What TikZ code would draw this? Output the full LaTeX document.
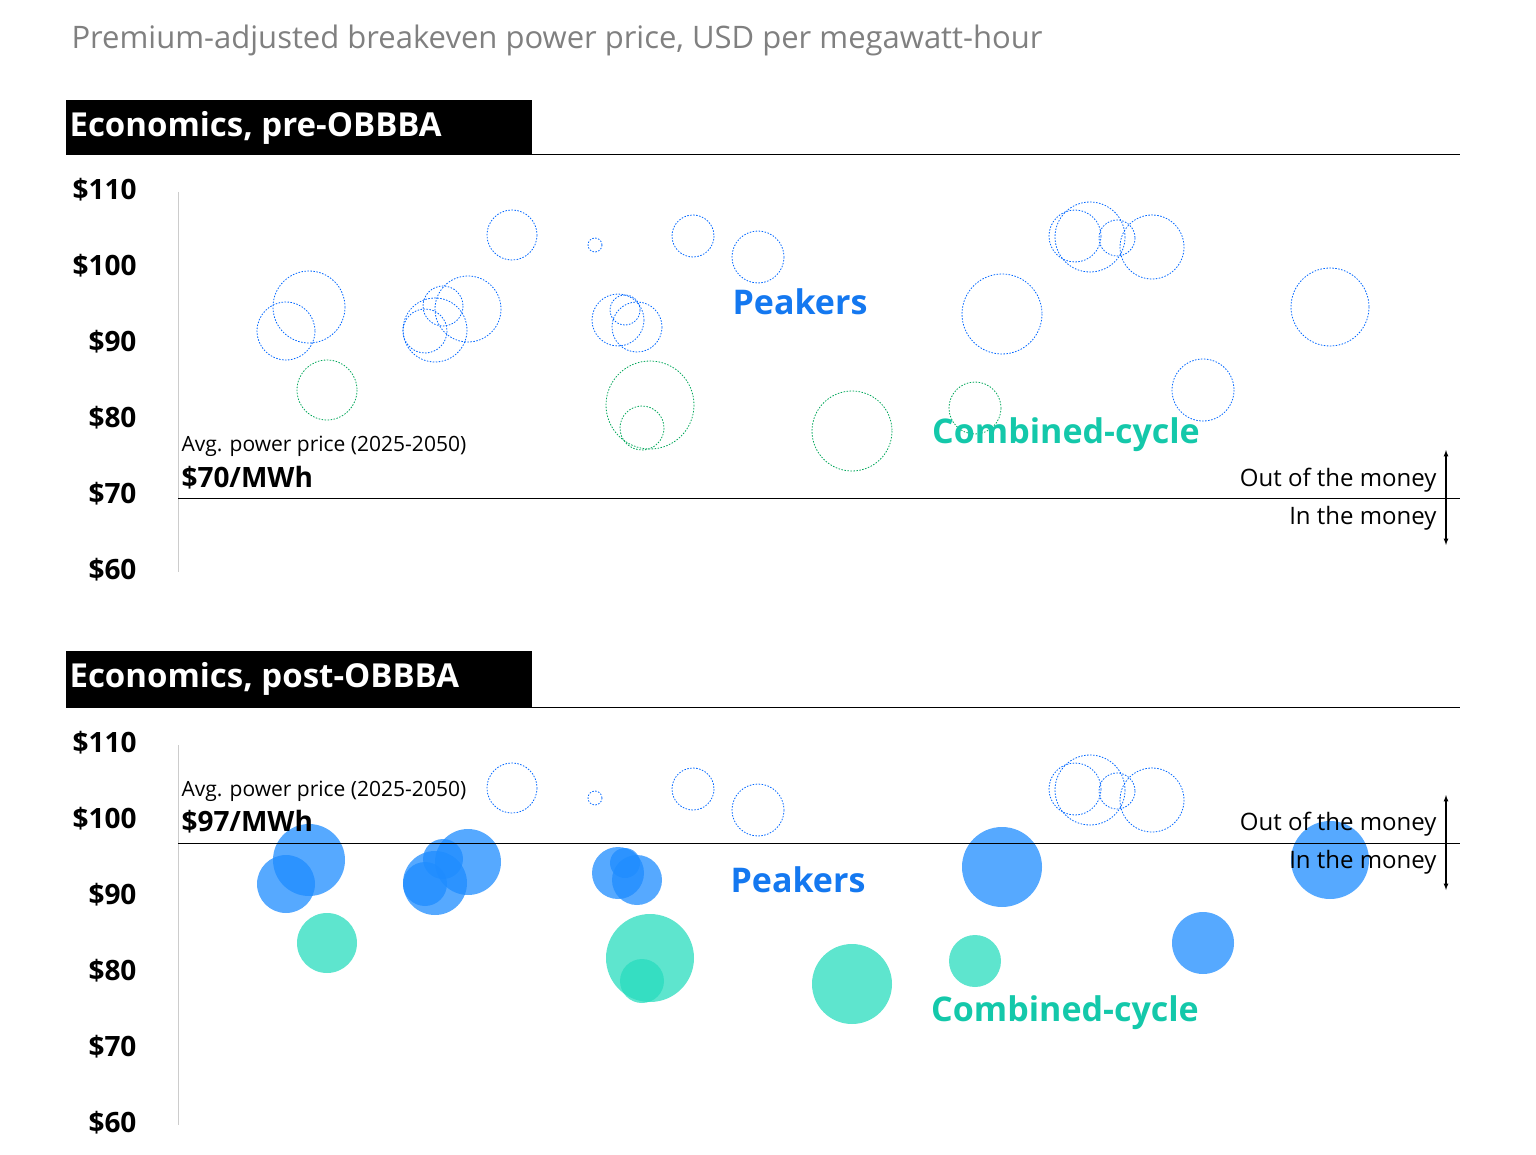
\documentclass[tikz,border=0pt]{standalone}
\usepackage{fontspec}
\setmainfont{Open Sans}
\begin{document}
\begin{tikzpicture}[x=1pt,y=-1pt,
  bo/.style={draw=blue!60!cyan, dash pattern=on 1.5pt off 1.5pt, line width=0.8pt},
  go/.style={draw=teal!70!green, dash pattern=on 1.5pt off 1.5pt, line width=0.8pt},
  bf/.style={fill={rgb,255:red,30;green,140;blue,255}, fill opacity=0.75},
  gf/.style={fill={rgb,255:red,40;green,220;blue,190}, fill opacity=0.75},
  ylab/.style={anchor=east, font=\fontsize{28}{30}\selectfont\bfseries},
  hdr/.style={fill=black, text=white, anchor=west, font=\fontsize{33}{36}\selectfont\bfseries},
  pk/.style={text={rgb,255:red,20;green,120;blue,240}, font=\fontsize{34}{36}\selectfont\bfseries},
  cc/.style={text={rgb,255:red,20;green,200;blue,170}, font=\fontsize{34}{36}\selectfont\bfseries},
  sm/.style={anchor=west, font=\fontsize{21}{24}\selectfont},
  big/.style={anchor=west, font=\fontsize{28}{30}\selectfont\bfseries},
  mon/.style={anchor=east, font=\fontsize{24}{26}\selectfont}]
\useasboundingbox (0,0) rectangle (1536,1155);
\node[anchor=west, text=gray, font=\fontsize{31}{34}\selectfont] (title) at (68,40) {Premium-adjusted breakeven power price, USD per megawatt-hour};
% ---------- top panel ----------
\fill (66,100) rectangle (532,155);
\node[hdr] (h1) at (66,128) {Economics, pre-OBBBA};
\draw[line width=1pt] (66,155) -- (1460,155);
\draw[gray!40] (178,192) -- (178,572);
\foreach \v/\y in {110/190,100/266,90/342,80/418,70/494,60/570}
  \node[ylab] at (140,\y) {\$\v};
\draw (178,498) -- (1460,498);
\foreach \x/\y/\r in {286/331/29,309/307/36,425/331/22,435/330/32,443/306/20,468/309/33,512/235/25,595/245/7,618/320/26,625/310/15,637/327/25,693/236/21,758/257/26,1002/314/40,1075/236/26,1090/237/35,1117/238/18,1152/247/32,1203/390/31,1330/307/39}
  \draw[bo] (\x,\y) circle (\r);
\foreach \x/\y/\r in {327/390/30,650/405/44,642/428/22,852/431/40,975/408/26}
  \draw[go] (\x,\y) circle (\r);
\node[pk] (p1) at (800,302) {Peakers};
\node[cc] (c1) at (1066,435) {Combined-cycle};
\node[sm] (a1) at (178,446) {Avg. power price (2025-2050)};
\node[big] (v1) at (178,478) {\$70/MWh};
\node[mon] (o1) at (1440,480) {Out of the money};
\node[mon] (i1) at (1440,518) {In the money};
\coordinate (t1) at (1446,450); \coordinate (b1) at (1446,545);
\draw[<->, >=latex, line width=1.2pt] (t1) -- (b1);
% ---------- bottom panel ----------
\fill (66,651) rectangle (532,707);
\node[hdr] (h2) at (66,679) {Economics, post-OBBBA};
\draw[line width=1pt] (66,707) -- (1460,707);
\draw[gray!40] (178,745) -- (178,1125);
\foreach \v/\y in {110/743,100/819,90/895,80/971,70/1047,60/1123}
  \node[ylab] at (140,\y) {\$\v};
\begin{scope}[yshift=-553pt]
\foreach \x/\y/\r in {512/235/25,595/245/7,693/236/21,758/257/26,1075/236/26,1090/237/35,1117/238/18,1152/247/32}
  \draw[bo] (\x,\y) circle (\r);
\foreach \x/\y/\r in {286/331/29,309/307/36,425/331/22,435/330/32,443/306/20,468/309/33,618/320/26,625/310/15,637/327/25,1002/314/40,1203/390/31,1330/307/39}
  \fill[bf] (\x,\y) circle (\r);
\foreach \x/\y/\r in {327/390/30,650/405/44,642/428/22,852/431/40,975/408/26}
  \fill[gf] (\x,\y) circle (\r);
\end{scope}
\draw (178,843) -- (1460,843);
\node[pk] (p2) at (798,880) {Peakers};
\node[cc] (c2) at (1065,1013) {Combined-cycle};
\node[sm] (a2) at (178,791) {Avg. power price (2025-2050)};
\node[big] (v2) at (178,822) {\$97/MWh};
\node[mon] (o2) at (1440,824) {Out of the money};
\node[mon] (i2) at (1440,862) {In the money};
\coordinate (t2) at (1446,795); \coordinate (b2) at (1446,890);
\draw[<->, >=latex, line width=1.2pt] (t2) -- (b2);
\end{tikzpicture}
\end{document}
